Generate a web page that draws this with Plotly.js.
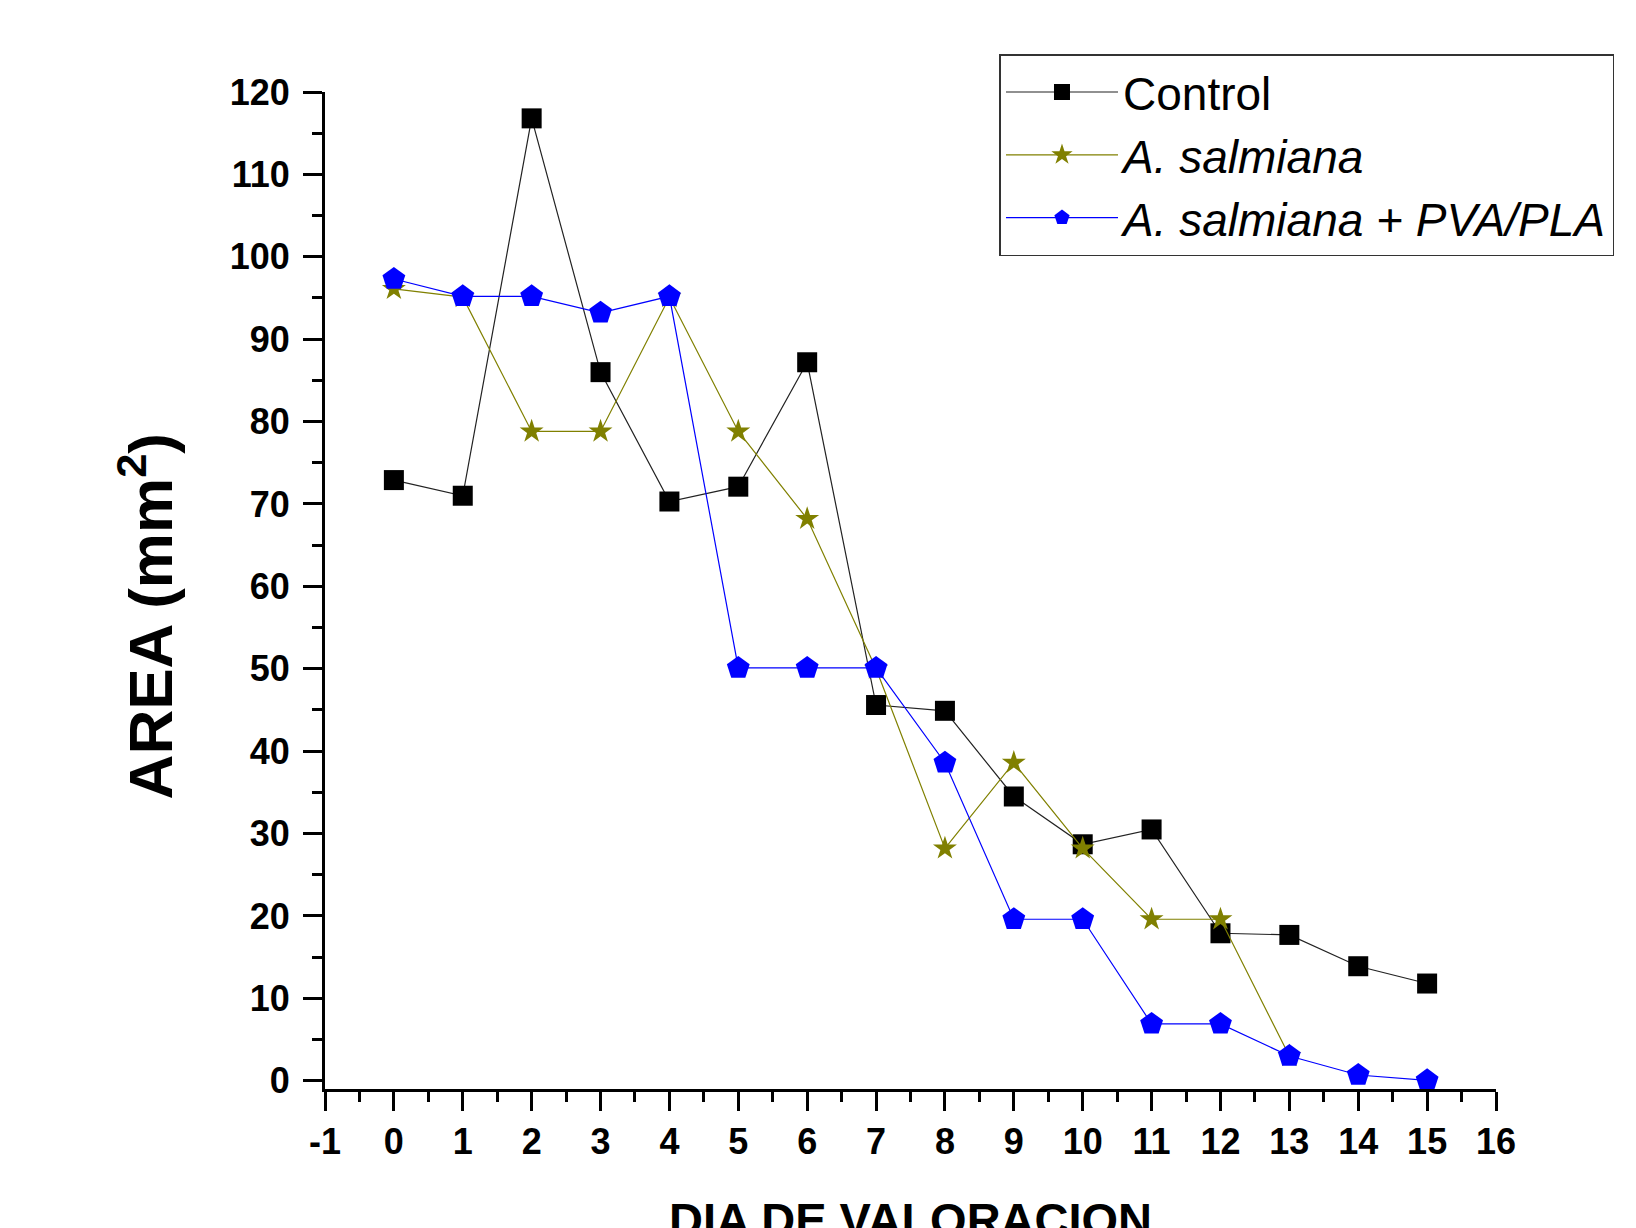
<!DOCTYPE html>
<html>
<head>
<meta charset="utf-8">
<script src="https://cdn.plot.ly/plotly-3.0.1.min.js"></script>
<style>html,body{margin:0;padding:0;background:#fff;}#chart{width:1636px;height:1228px;}</style>
</head>
<body>
<div id="chart"></div>
<script>
// Data
const days = [0,1,2,3,4,5,6,7,8,9,10,11,12,13,14,15];
const controlArea = [72.9,71.0,116.8,86.0,70.3,72.1,87.2,45.6,44.9,34.5,28.7,30.5,17.9,17.7,13.9,11.8];
const salmianaDays = [0,1,2,3,4,5,6,7,8,9,10,11,12,13];
const salmianaArea = [96.1,95.1,78.8,78.8,95.1,78.8,68.2,50.0,28.2,38.6,28.2,19.6,19.6,3.0];
const pvaArea = [97.3,95.2,95.2,93.2,95.2,50.1,50.1,50.1,38.6,19.6,19.6,6.9,6.9,3.0,0.7,0.05];
const seriesNames = ['Control', '<i>A. salmiana</i>', '<i>A. salmiana + PVA/PLA</i>'];
const xTickVals = [-1,0,1,2,3,4,5,6,7,8,9,10,11,12,13,14,15,16];
const xTickText = ['-1','0','1','2','3','4','5','6','7','8','9','10','11','12','13','14','15','16'];
const xTitle = 'DIA DE VALORACION';
const yTitle = 'AREA (mm<sup>2</sup>)';

const FONT = 'Arial, "Liberation Sans", sans-serif';

const traces = [
  {x: days, y: controlArea, name: seriesNames[0], mode: 'lines+markers',
   line: {color: '#222222', width: 1.2},
   marker: {symbol: 'square', size: 20, color: '#000000'}},
  {x: salmianaDays, y: salmianaArea, name: seriesNames[1], mode: 'lines+markers',
   line: {color: '#808000', width: 1.2},
   marker: {symbol: 'star', size: 18, color: '#808000'}},
  {x: days, y: pvaArea, name: seriesNames[2], mode: 'lines+markers',
   line: {color: '#0000ff', width: 1.2},
   marker: {symbol: 'pentagon', size: 24, color: '#0000ff'}}
];

const axisCommon = {
  showgrid: false, zeroline: false, showline: true, linecolor: '#000', linewidth: 3,
  ticks: 'outside', ticklen: 19, tickwidth: 3, tickcolor: '#000',
  tickfont: {family: FONT, size: 36, color: '#000', weight: 'bold'},
  automargin: false
};

const layout = {
  width: 1636, height: 1228,
  paper_bgcolor: '#fff', plot_bgcolor: '#fff',
  margin: {l: 325, r: 140, t: 92, b: 139},
  font: {family: FONT, color: '#000'},
  showlegend: true,
  legend: {
    x: 0.576, y: 1.038, xanchor: 'left', yanchor: 'top',
    bgcolor: '#fff', bordercolor: '#333', borderwidth: 1.5,
    font: {family: FONT, size: 46, color: '#000'},
    itemwidth: 112,
    tracegroupgap: 0
  },
  xaxis: Object.assign({}, axisCommon, {
    range: [-1, 16], tickmode: 'array', tickvals: xTickVals, ticktext: xTickText,
    minor: {tickmode: 'linear', tick0: 0, dtick: 0.5, ticks: 'outside', ticklen: 10, tickwidth: 3, tickcolor: '#000'}
  }),
  yaxis: Object.assign({}, axisCommon, {
    range: [-1, 120], tick0: 0, dtick: 10, ticklabelstandoff: 6,
    minor: {dtick: 5, ticks: 'outside', ticklen: 10, tickwidth: 3, tickcolor: '#000'}
  }),
  annotations: [
    {text: yTitle, xref: 'paper', yref: 'paper', x: -0.1529, y: 0.474,
     xanchor: 'center', yanchor: 'middle', textangle: -90, showarrow: false,
     font: {family: FONT, size: 62, color: '#000', weight: 'bold'}},
    {text: xTitle, xref: 'paper', yref: 'paper', x: 0.5, y: -0.131,
     xanchor: 'center', yanchor: 'middle', showarrow: false,
     font: {family: FONT, size: 47, color: '#000', weight: 'bold'}}
  ]
};

Plotly.newPlot('chart', traces, layout, {displayModeBar: false, staticPlot: true});
</script>
</body>
</html>
